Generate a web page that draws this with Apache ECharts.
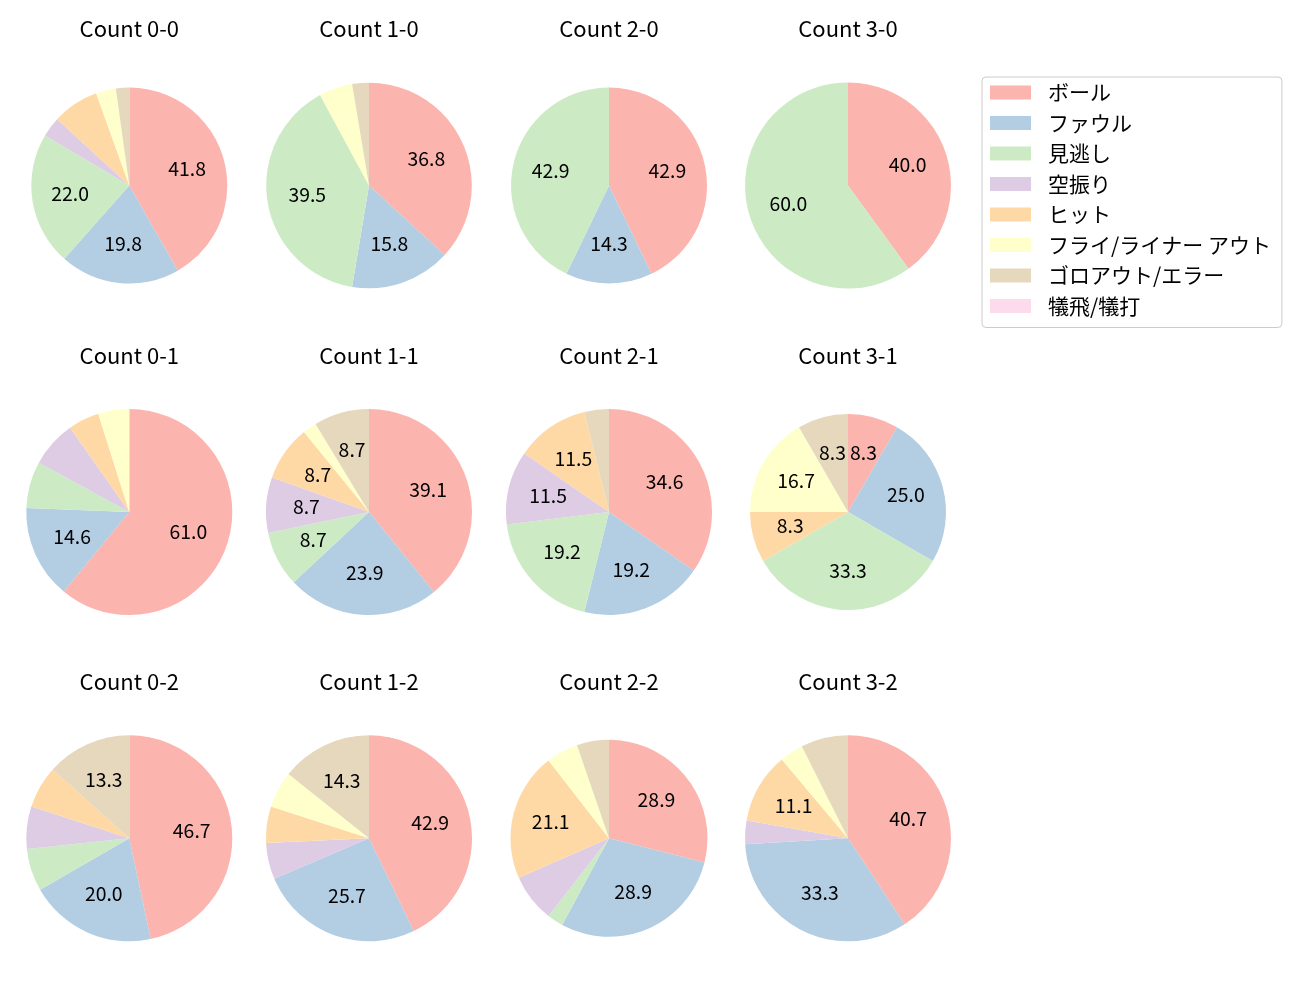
<!DOCTYPE html>
<html>
<head>
<meta charset="utf-8">
<script src="https://cdn.jsdelivr.net/npm/echarts@6/dist/echarts.min.js"></script>
<style>
  html, body { margin: 0; padding: 0; background: #ffffff; }
  #chart { width: 1300px; height: 1000px; }
</style>
</head>
<body>
<div id="chart"></div>
<script>
// ---- data ----
const categories = ['ボール', 'ファウル', '見逃し', '空振り', 'ヒット', 'フライ/ライナー アウト', 'ゴロアウト/エラー', '犠飛/犠打'];
const countLabels = ['0-0', '1-0', '2-0', '3-0', '0-1', '1-1', '2-1', '3-1', '0-2', '1-2', '2-2', '3-2'];
const c00 = [38, 18, 20, 3, 7, 3, 2, 0];
const c10 = [14, 6, 15, 0, 0, 2, 1, 0];
const c20 = [3, 1, 3, 0, 0, 0, 0, 0];
const c30 = [2, 0, 3, 0, 0, 0, 0, 0];
const c01 = [25, 6, 3, 3, 2, 2, 0, 0];
const c11 = [18, 11, 4, 4, 4, 1, 4, 0];
const c21 = [9, 5, 5, 3, 3, 0, 1, 0];
const c31 = [1, 3, 4, 0, 1, 2, 1, 0];
const c02 = [7, 3, 1, 1, 1, 0, 2, 0];
const c12 = [15, 9, 0, 2, 2, 2, 5, 0];
const c22 = [11, 11, 1, 3, 8, 2, 2, 0];
const c32 = [11, 9, 0, 1, 3, 1, 2, 0];
const allValues = [c00, c10, c20, c30, c01, c11, c21, c31, c02, c12, c22, c32];

// ---- style / layout ----
const palette = ['#fbb4ae', '#b3cde3', '#ccebc5', '#decbe4', '#fed9a6', '#ffffcc', '#e5d8bd', '#fddaec'];
const FONT = '"Noto Sans CJK JP", "Noto Sans", sans-serif';
const FS = 19.4;
const TITLE_FS = 22;
const LEGEND_FS = 21;
const colX = [129.3, 369, 609, 848];
const rowY = [185.5, 512, 838.3];
const radii = [98, 102.8, 98, 103, 103, 103, 103, 98, 103, 103, 98.5, 103];
const titleY = [29, 356, 682];

const series = [];
const labelSeries = [];
const graphics = [];
allValues.forEach((vals, i) => {
  const col = i % 4, row = Math.floor(i / 4);
  const cx = colX[col], cy = rowY[row], r = radii[i];
  const total = vals.reduce((a, b) => a + b, 0);
  const data = categories.map((c, k) => ({ name: c, value: vals[k] }));
  series.push({
    type: 'pie',
    name: 'Count ' + countLabels[i],
    center: [cx, cy],
    radius: [0, r],
    startAngle: 90,
    clockwise: true,
    silent: true,
    label: { show: false },
    labelLine: { show: false },
    emphasis: { disabled: true },
    data: data
  });
  labelSeries.push({
    type: 'pie',
    name: 'lbl ' + countLabels[i],
    center: [cx, cy - 1.5],
    radius: [0, r * 1.16],
    startAngle: 90,
    clockwise: true,
    silent: true,
    itemStyle: { color: 'rgba(0,0,0,0)' },
    labelLine: { show: false },
    emphasis: { disabled: true },
    label: {
      show: true,
      position: 'inside',
      color: '#000',
      fontSize: FS,
      fontFamily: FONT,
      formatter: function (p) {
        const pct = p.value / total * 100;
        return pct >= 8 ? pct.toFixed(1) : '';
      }
    },
    data: data.map(d => ({ name: d.name + ' ', value: d.value }))
  });
  graphics.push({
    type: 'text',
    x: cx,
    y: titleY[row],
    style: {
      text: 'Count ' + countLabels[i],
      fill: '#000',
      fontSize: TITLE_FS,
      fontFamily: FONT,
      textAlign: 'center',
      textVerticalAlign: 'middle'
    }
  });
});

const chart = echarts.init(document.getElementById('chart'), null, { renderer: 'canvas' });
chart.setOption({
  backgroundColor: '#ffffff',
  animation: false,
  color: palette,
  textStyle: { fontFamily: FONT },
  legend: {
    orient: 'vertical',
    left: 982,
    top: 77,
    data: categories,
    icon: 'rect',
    itemWidth: 41,
    itemHeight: 14,
    itemGap: 9.5,
    selectedMode: false,
    borderColor: '#cccccc',
    borderWidth: 1,
    borderRadius: 4,
    padding: [5, 11, 11, 8],
    textStyle: {
      fontSize: LEGEND_FS,
      fontFamily: FONT,
      color: '#000',
      lineHeight: 20,
      padding: [0, 0, 0, 12]
    }
  },
  graphic: graphics,
  series: series.concat(labelSeries)
});
</script>
</body>
</html>
